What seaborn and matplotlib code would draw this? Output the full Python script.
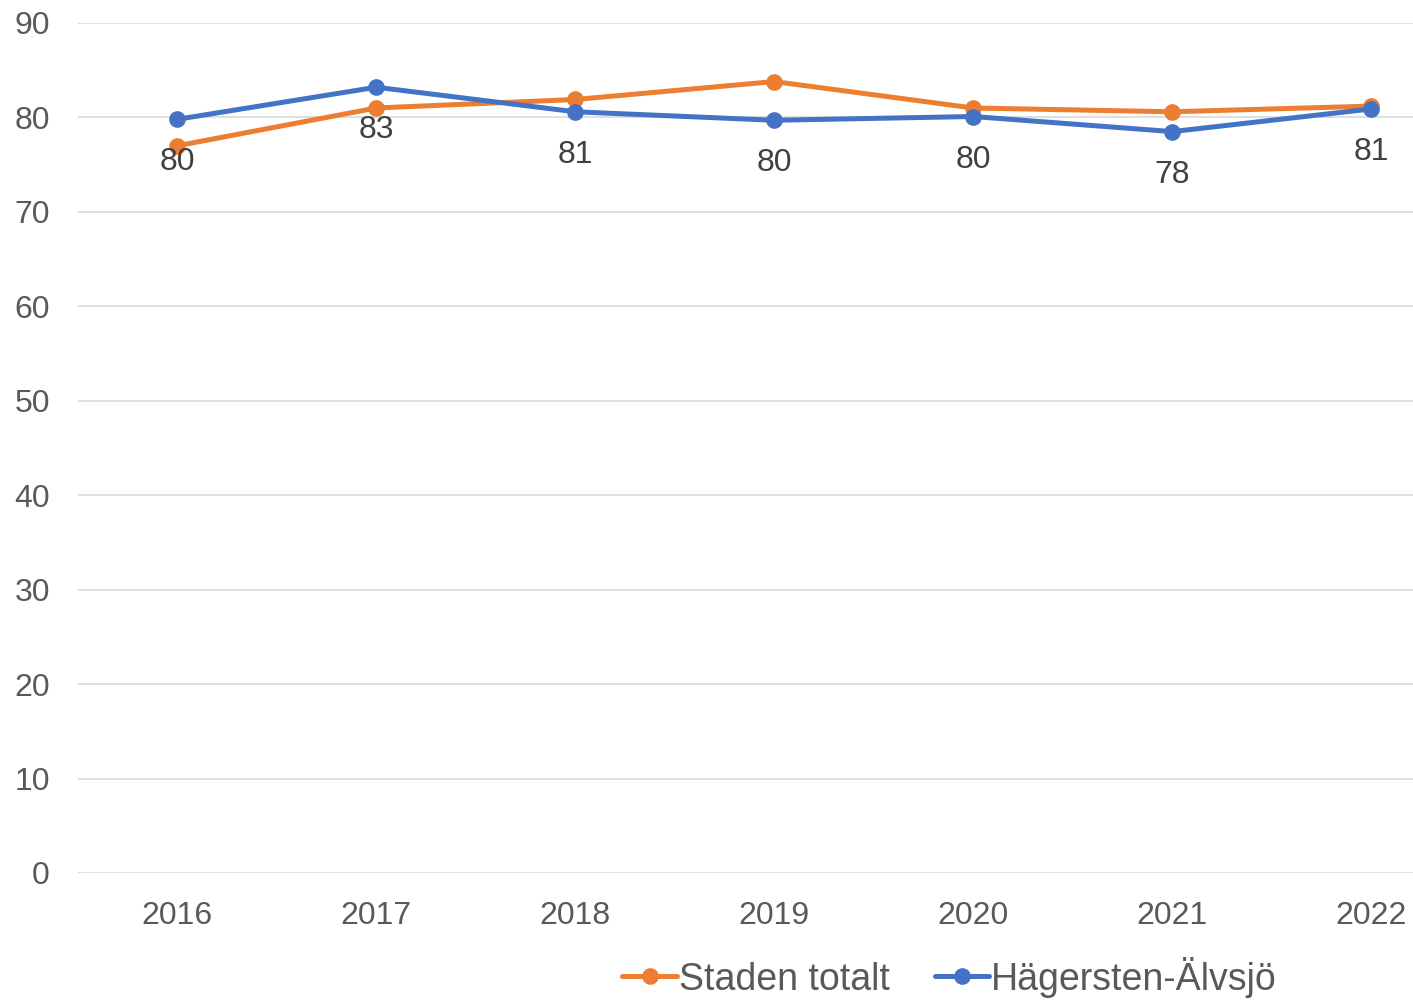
import pandas as pd
import numpy as np
import matplotlib
matplotlib.use("Agg")
import matplotlib.pyplot as plt
import seaborn as sns

years = ["2016", "2017", "2018", "2019", "2020", "2021", "2022"]
staden = [77.0, 81.0, 81.9, 83.8, 81.0, 80.6, 81.2]
hagersten = [79.8, 83.2, 80.6, 79.7, 80.1, 78.5, 80.9]
hagersten_labels = ["80", "83", "81", "80", "80", "78", "81"]

df = pd.DataFrame({
    "idx": np.arange(len(years)),
    "Staden totalt": staden,
    "Hägersten-Älvsjö": hagersten,
})

sns.set_theme(style="white")
plt.rcParams["font.family"] = ["Liberation Sans", "DejaVu Sans"]
grey = "#595959"

fig = plt.figure(figsize=(14.13, 10), dpi=100)
ax = fig.add_axes([0.055, 0.127, 0.945, 0.85])

ax.set_axisbelow(True)
ax.yaxis.grid(True, color="#D9D9D9", linewidth=1.2)
ax.xaxis.grid(False)

sns.lineplot(data=df, x="idx", y="Staden totalt", ax=ax, color="#ED7D31",
             linewidth=3.6, marker="o", markersize=12, markeredgewidth=0,
             label="Staden totalt")
sns.lineplot(data=df, x="idx", y="Hägersten-Älvsjö", ax=ax, color="#4472C4",
             linewidth=3.6, marker="o", markersize=12, markeredgewidth=0,
             label="Hägersten-Älvsjö")

for i, (v, lab) in enumerate(zip(hagersten, hagersten_labels)):
    ax.annotate(lab, (i, v), xytext=(0, -31), textcoords="offset points",
                ha="center", va="center", fontsize=23, color="#404040")

ax.set_xlim(-0.5, 6.21)
ax.set_ylim(0, 90)
ax.set_yticks(range(0, 91, 10))
ax.set_xticks(df["idx"])
ax.set_xticklabels(years)
ax.tick_params(axis="both", length=0, labelsize=23, colors=grey)
ax.tick_params(axis="y", pad=20)
ax.tick_params(axis="x", pad=20)
ax.set_xlabel("")
ax.set_ylabel("")
for s in ax.spines.values():
    s.set_visible(False)

leg = ax.legend(loc="center", bbox_to_anchor=(0.672, 0.023), bbox_transform=fig.transFigure,
                ncol=2, frameon=False, fontsize=27, handlelength=1.45,
                handletextpad=0.05, columnspacing=1.2)
for t in leg.get_texts():
    t.set_color(grey)

fig.savefig("out.png", dpi=100)
